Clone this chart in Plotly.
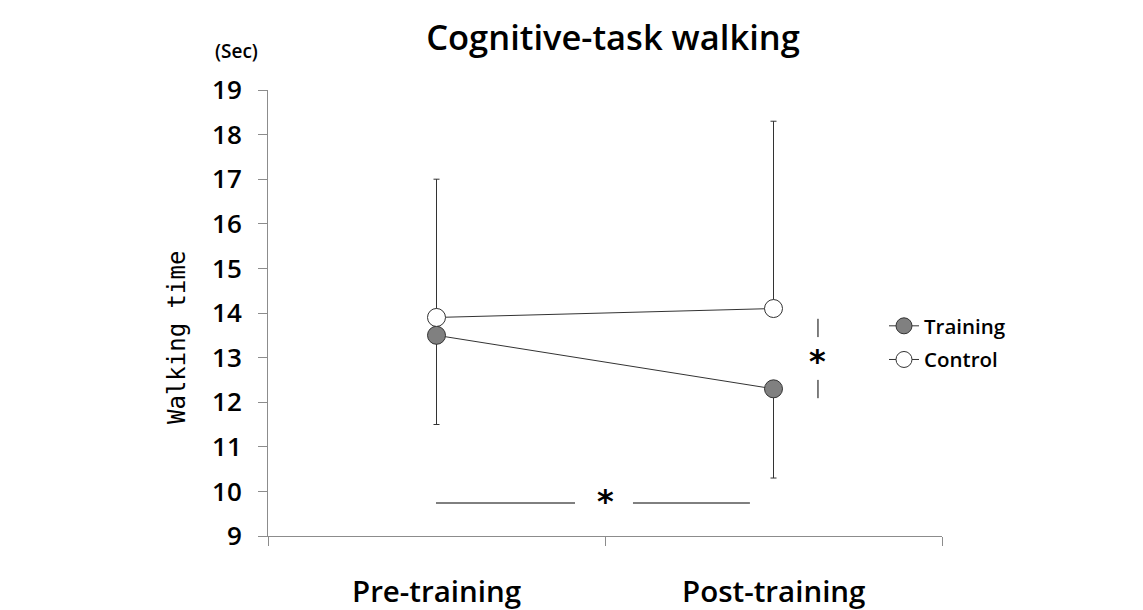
import plotly.graph_objects as go

# ---- data ----
phases = ["Pre-training", "Post-training"]
phase_pos = [0.5, 1.5]
training_mean = [13.5, 12.3]
training_sd_minus = [2.0, 2.0]
control_mean = [13.9, 14.1]
control_sd_plus = [3.1, 4.2]
y_ticks = [9, 10, 11, 12, 13, 14, 15, 16, 17, 18, 19]

LINE = "#333333"
AXIS = "#8c8c8c"
FONT = "Open Sans"

# page body has an 8px margin; work in figure pixels
OFF = 8
L, T = 268 - OFF, 90 - OFF
PW, PH = 674, 446
W, H = 1143 - OFF, 610 - OFF


def px_x(x):
    return (x - OFF - L) / PW


def px_y(y):
    return (T + PH - (y - OFF)) / PH


fig = go.Figure()
fig.add_trace(go.Scatter(
    x=phase_pos, y=training_mean, name="Training", mode="lines+markers",
    legendgroup="a",
    line=dict(color=LINE, width=1),
    marker=dict(size=18, color="#808080", line=dict(color=LINE, width=1)),
    error_y=dict(type="data", symmetric=False, array=[0, 0], arrayminus=training_sd_minus,
                 color=LINE, thickness=1, width=3),
))
fig.add_trace(go.Scatter(
    x=phase_pos, y=control_mean, name="Control", mode="lines+markers",
    legendgroup="b",
    line=dict(color=LINE, width=1),
    marker=dict(size=18, color="white", line=dict(color=LINE, width=1)),
    error_y=dict(type="data", symmetric=False, array=control_sd_plus, arrayminus=[0, 0],
                 color=LINE, thickness=1, width=3),
))

# significance marks
for x0, x1 in [(0.4985, 0.911), (1.083, 1.430)]:
    fig.add_shape(type="line", xref="x", yref="y", x0=x0, x1=x1, y0=9.74, y1=9.74,
                  line=dict(color="black", width=1))
for y0, y1 in [(13.46, 13.87), (12.09, 12.50)]:
    fig.add_shape(type="line", xref="x", yref="y", x0=1.632, x1=1.632, y0=y0, y1=y1,
                  line=dict(color="black", width=1))
fig.add_annotation(x=1.0, y=9.78, xref="x", yref="y", text="*", showarrow=False,
                   font=dict(family="DejaVu Sans", size=32, color="black", weight="bold"))
fig.add_annotation(x=1.632, y=12.93, xref="x", yref="y", text="*", showarrow=False,
                   font=dict(family="DejaVu Sans", size=32, color="black", weight="bold"))

# category labels
for p, lab in zip(phase_pos, phases):
    fig.add_annotation(x=p, y=px_y(590), xref="x", yref="paper", text=lab,
                       showarrow=False, yanchor="middle",
                       font=dict(family=FONT, size=29.5, color="black", weight=600))

fig.add_annotation(x=px_x(236), y=px_y(51), xref="paper", yref="paper", text="(Sec)",
                   showarrow=False, xanchor="center", yanchor="middle",
                   font=dict(family=FONT, size=19, color="black", weight=600))
fig.add_annotation(x=px_x(177), y=px_y(338), xref="paper", yref="paper", text="Walking time",
                   showarrow=False, xanchor="center", yanchor="middle", textangle=-90,
                   font=dict(family="DejaVu Sans Mono", size=24, color="black"))

fig.update_layout(
    width=W, height=H,
    margin=dict(l=L, r=W - L - PW, t=T, b=H - T - PH, autoexpand=False),
    paper_bgcolor="white", plot_bgcolor="white",
    title=dict(text="Cognitive-task walking", x=(613 - OFF) / W, xanchor="center",
               y=1 - (38 - OFF) / H, yanchor="middle",
               font=dict(family=FONT, size=34.5, color="black", weight=600)),
    showlegend=True,
    legend=dict(x=px_x(884), y=px_y(343), xanchor="left", yanchor="middle",
                font=dict(family=FONT, size=20.5, color="black", weight=600),
                itemwidth=30, tracegroupgap=4, bgcolor="rgba(0,0,0,0)"),
    xaxis=dict(range=[0, 2], showgrid=False, zeroline=False, showline=True,
               linecolor=AXIS, linewidth=1, showticklabels=False, ticks="",
               tickvals=phase_pos,
               minor=dict(ticks="outside", tick0=0, dtick=1, ticklen=9, tickcolor=AXIS)),
    yaxis=dict(range=[9, 19], tickvals=y_ticks, showgrid=False, zeroline=False,
               showline=True, linecolor=AXIS, linewidth=1, ticks="outside", ticklen=9,
               tickcolor=AXIS, tickfont=dict(family=FONT, size=26, color="black", weight=600),
               ticklabelstandoff=11),
)

fig.write_html("out.html")
